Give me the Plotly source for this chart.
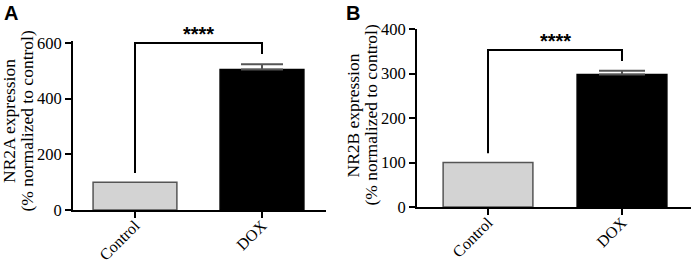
import plotly.graph_objects as go

W, H = 692, 264

categories = ["Control", "DOX"]
nr2a_mean = [100, 505]
nr2a_err = [0, 19]
nr2b_mean = [100, 298]
nr2b_err = [0, 8]
nr2a_ticks = [0, 200, 400, 600]
nr2b_ticks = [0, 100, 200, 300, 400]
# significance brackets: [horizontal level, left drop end, right drop end]
nr2a_bracket = [600, 133, 560]
nr2b_bracket = [353, 121, 328]
sig_label = "****"
panel_labels = ["A", "B"]
y_titles = [["NR2A expression", "(% normalized to control)"],
            ["NR2B expression", "(% normalized to control)"]]

bar_colors = ["#d3d3d3", "#000000"]
bar_lines = ["#555555", "#000000"]

SERIF = "Liberation Serif, Times New Roman, serif"
SANS = "Liberation Sans, Arial, sans-serif"

# layout geometry (pixels)
panels = [
    dict(mean=nr2a_mean, err=nr2a_err, ticks=nr2a_ticks, bracket=nr2a_bracket,
         xpx=(73, 326), y0px=210, ytop_px=41.3, yrange=[0, 606], xrange=[-0.488, 1.504],
         width=0.66, cap=21, title_x=(9, 26.5), title_y=121, label_x=2),
    dict(mean=nr2b_mean, err=nr2b_err, ticks=nr2b_ticks, bracket=nr2b_bracket,
         xpx=(417, 691), y0px=207, ytop_px=29, yrange=[0, 400], xrange=[-0.53, 1.515],
         width=0.67, cap=23, title_x=(352.5, 370.5), title_y=115, label_x=344),
]

fig = go.Figure()
shapes = []
annotations = []

for p_i, p in enumerate(panels):
    sfx = "" if p_i == 0 else str(p_i + 1)
    xa, ya = "x" + sfx, "y" + sfx
    for i, cat in enumerate(categories):
        kw = {}
        if p["err"][i] > 0:
            kw["error_y"] = dict(type="data", symmetric=False, array=[p["err"][i]],
                                 arrayminus=[0], color="#555555", thickness=2, width=p["cap"])
        fig.add_trace(go.Bar(x=[i], y=[p["mean"][i]], width=p["width"],
                             marker=dict(color=bar_colors[i], line=dict(color=bar_lines[i], width=1.5)),
                             xaxis=xa, yaxis=ya, showlegend=False, hoverinfo="skip", **kw))
    axis_common = dict(showline=True, linecolor="black", linewidth=2, ticks="outside",
                       ticklen=6, tickwidth=2, tickcolor="black", showgrid=False, zeroline=False,
                       automargin=False)
    fig.update_layout(**{
        "xaxis" + sfx: dict(domain=[p["xpx"][0] / W, p["xpx"][1] / W], range=p["xrange"],
                            anchor=ya, tickvals=list(range(len(categories))), ticktext=categories,
                            tickangle=-45, ticklabelstandoff=-8,
                            tickfont=dict(family=SERIF, size=16, color="black"), **axis_common),
        "yaxis" + sfx: dict(domain=[(H - p["y0px"]) / H, (H - p["ytop_px"]) / H], range=p["yrange"],
                            anchor=xa, tickvals=p["ticks"],
                            tickfont=dict(family=SERIF, size=16.5, color="black"), **axis_common),
    })
    b = p["bracket"]
    shapes.append(dict(type="path", xref=xa, yref=ya,
                       path=f"M 0,{b[1]} L 0,{b[0]} L 1,{b[0]} L 1,{b[2]}",
                       line=dict(color="black", width=2)))
    annotations.append(dict(xref=xa, yref=ya, x=0.5, y=b[0], text=sig_label, showarrow=False,
                            yanchor="bottom", yshift=-4,
                            font=dict(family=SANS, size=20, color="black", weight="bold")))
    for li, line in enumerate(y_titles[p_i]):
        annotations.append(dict(xref="paper", yref="paper", x=p["title_x"][li] / W,
                                y=(H - p["title_y"]) / H, text=line, textangle=-90,
                                showarrow=False, xanchor="center", yanchor="middle",
                                font=dict(family=SERIF, size=17.5, color="black")))
    annotations.append(dict(xref="paper", yref="paper", x=p["label_x"] / W, y=1, text=panel_labels[p_i],
                            showarrow=False, xanchor="left", yanchor="top",
                            font=dict(family=SANS, size=20, color="black", weight="bold")))

fig.update_layout(width=W, height=H, margin=dict(l=0, r=0, t=0, b=0, autoexpand=False),
                  paper_bgcolor="white", plot_bgcolor="white",
                  shapes=shapes, annotations=annotations, bargap=0)

fig.write_html("out.html", config={"displayModeBar": False, "staticPlot": True},
               post_script="document.body.style.margin='0';document.body.style.overflow='hidden';")
